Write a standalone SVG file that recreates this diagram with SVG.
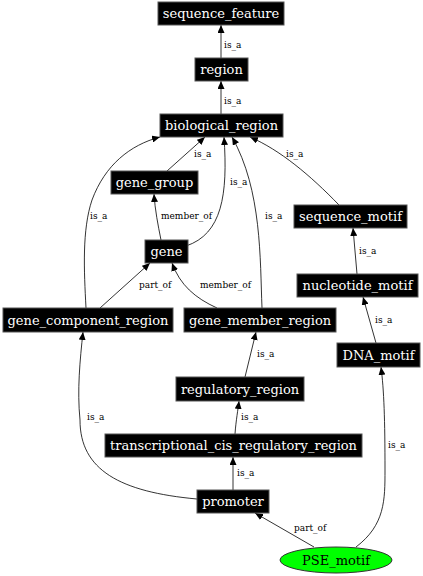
<svg xmlns="http://www.w3.org/2000/svg" width="423" height="576" viewBox="0 0 423 576">
<style>
.n rect{fill:#000;stroke:#555;stroke-width:1}
.n text{fill:#fff;font-family:"DejaVu Serif","Liberation Serif",serif;font-size:13px;text-anchor:middle}
.e path{fill:none;stroke:#000;stroke-width:0.8}
.l{font-family:"DejaVu Serif","Liberation Serif",serif;font-size:9px;fill:#000}
</style>
<defs>
<marker id="ah" markerUnits="userSpaceOnUse" markerWidth="8" markerHeight="7" refX="8" refY="3.5" orient="auto">
<path d="M0,0 L8,3.5 L0,7 z" fill="#000"/>
</marker>
</defs>
<rect width="423" height="576" fill="#fff"/>
<g id="edges" class="e">
<path marker-end="url(#ah)" d="M221,58 L221,25"/>
<path marker-end="url(#ah)" d="M221,114 L221,81"/>
<path marker-end="url(#ah)" d="M167,171 L205,137"/>
<path marker-end="url(#ah)" d="M186,246 C222,234 228,195 224,137"/>
<path marker-end="url(#ah)" d="M161,240 C158,225 155,210 154,194"/>
<path marker-end="url(#ah)" d="M86,308 C84,270 82,230 92,200 C105,165 130,145 160,137"/>
<path marker-end="url(#ah)" d="M100,308 L150,263"/>
<path marker-end="url(#ah)" d="M217,308 C195,298 180,285 172,263"/>
<path marker-end="url(#ah)" d="M262,308 C260,260 262,190 232,137"/>
<path marker-end="url(#ah)" d="M339,205 C310,175 280,150 250,137"/>
<path marker-end="url(#ah)" d="M357,274 L353,228"/>
<path marker-end="url(#ah)" d="M376,343 L363,297"/>
<path marker-end="url(#ah)" d="M245,377 L256,332"/>
<path marker-end="url(#ah)" d="M235,434 C236,420 238,410 239,401"/>
<path marker-end="url(#ah)" d="M233,490 L233,457"/>
<path marker-end="url(#ah)" d="M197,499 C120,492 80,470 80,420 C77,390 80,360 83,332"/>
<path marker-end="url(#ah)" d="M314,547 L255,513"/>
<path marker-end="url(#ah)" d="M356,547 C385,525 385,500 385,470 C385,420 384,390 381,367"/>
</g>
<g id="edge-labels">
<text class="l" x="224" y="48">is_a</text>
<text class="l" x="224" y="104">is_a</text>
<text class="l" x="194" y="157">is_a</text>
<text class="l" x="230" y="185">is_a</text>
<text class="l" x="161" y="219">member_of</text>
<text class="l" x="90" y="219">is_a</text>
<text class="l" x="139" y="288">part_of</text>
<text class="l" x="200" y="288">member_of</text>
<text class="l" x="265" y="219">is_a</text>
<text class="l" x="286" y="157">is_a</text>
<text class="l" x="359" y="254">is_a</text>
<text class="l" x="375" y="323">is_a</text>
<text class="l" x="257" y="357">is_a</text>
<text class="l" x="241" y="420">is_a</text>
<text class="l" x="237" y="476">is_a</text>
<text class="l" x="87" y="420">is_a</text>
<text class="l" x="294" y="531">part_of</text>
<text class="l" x="388" y="448">is_a</text>
</g>
<g id="sequence_feature" class="n"><rect x="158" y="2" width="126" height="23"/><text x="221" y="18">sequence_feature</text></g>
<g id="region" class="n"><rect x="195" y="58" width="53" height="23"/><text x="221.5" y="74">region</text></g>
<g id="biological_region" class="n"><rect x="160" y="114" width="123" height="23"/><text x="221.5" y="130">biological_region</text></g>
<g id="gene_group" class="n"><rect x="111" y="171" width="87" height="23"/><text x="154.5" y="187">gene_group</text></g>
<g id="sequence_motif" class="n"><rect x="294" y="205" width="113" height="23"/><text x="350.5" y="221">sequence_motif</text></g>
<g id="gene" class="n"><rect x="145" y="240" width="43" height="23"/><text x="166.5" y="256">gene</text></g>
<g id="nucleotide_motif" class="n"><rect x="297" y="274" width="121" height="23"/><text x="357.5" y="290">nucleotide_motif</text></g>
<g id="gene_component_region" class="n"><rect x="3" y="308" width="170" height="24"/><text x="88" y="324.5">gene_component_region</text></g>
<g id="gene_member_region" class="n"><rect x="184" y="308" width="152" height="24"/><text x="260" y="324.5">gene_member_region</text></g>
<g id="DNA_motif" class="n"><rect x="337" y="343" width="83" height="24"/><text x="378.5" y="359.5">DNA_motif</text></g>
<g id="regulatory_region" class="n"><rect x="176" y="377" width="128" height="24"/><text x="240" y="393.5">regulatory_region</text></g>
<g id="transcriptional_cis_regulatory_region" class="n"><rect x="105" y="434" width="257" height="23"/><text x="233.5" y="450">transcriptional_cis_regulatory_region</text></g>
<g id="promoter" class="n"><rect x="197" y="490" width="72" height="23"/><text x="233" y="506">promoter</text></g>
<g id="PSE_motif"><ellipse cx="336" cy="560" rx="56" ry="13" fill="#00ff00" stroke="#333" stroke-width="1"/><text x="336" y="564.5" font-family="DejaVu Serif, Liberation Serif, serif" font-size="13" text-anchor="middle" fill="#000">PSE_motif</text></g>
</svg>
